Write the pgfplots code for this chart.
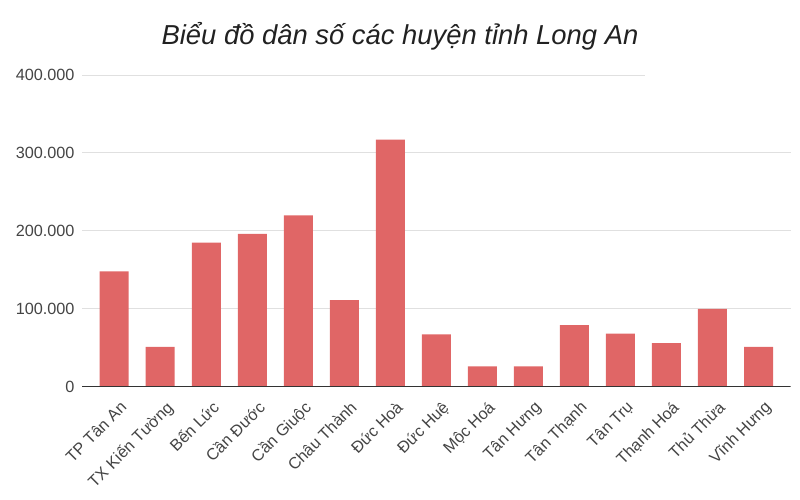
\documentclass[border=0pt]{standalone}
\usepackage{fontspec}
\setmainfont{Liberation Sans}
\usepackage{pgfplots}
\pgfplotsset{compat=1.18}
\definecolor{barred}{HTML}{E06666}
\definecolor{tickgray}{HTML}{444444}
\definecolor{gridgray}{HTML}{E0E0E0}
\definecolor{zerogray}{HTML}{333333}
\begin{document}
\begin{tikzpicture}[x=1bp,y=1bp]
\useasboundingbox (0,0) rectangle (800,500);
\node[font=\fontsize{27.5}{30}\selectfont\itshape, text=black!87] at (400,464) {Biểu đồ dân số các huyện tỉnh Long An};
\begin{axis}[
  at={(82bp,113.3bp)}, anchor=south west,
  scale only axis, width=708.7bp, height=311.7bp,
  xmin=-0.7, xmax=14.7, ymin=0, ymax=400000,
  axis line style={draw=none},
  major tick length=0,
  xtick={0,...,14},
  xticklabels={TP Tân An, TX Kiến Tường, Bến Lức, Cần Đước, Cần Giuộc, Châu Thành, Đức Hoà, Đức Huệ, Mộc Hoá, Tân Hưng, Tân Thạnh, Tân Trụ, Thạnh Hoá, Thủ Thừa, Vĩnh Hưng},
  x tick label style={rotate=45, anchor=north east, font=\fontsize{16.3}{18}\selectfont, text=tickgray, yshift=-9.5bp, xshift=-2.5bp},
  scaled y ticks=false,
  ytick={100000,200000,300000},
  yticklabels={100.000,200.000,300.000},
  extra y ticks={0,400000},
  extra y tick labels={0,400.000},
  extra y tick style={grid=none},
  y tick label style={font=\fontsize{16.3}{18}\selectfont, text=tickgray, xshift=-4bp},
  ymajorgrids, grid style={gridgray, line width=0.9bp},
]
\draw[gridgray, line width=0.9bp] (axis cs:-0.7,400000) -- (axis cs:11.54,400000);
\addplot[ybar, bar width=0.63, fill=barred, draw=none] coordinates {
  (0,148000) (1,51000) (2,185000) (3,196000) (4,220000)
  (5,111000) (6,317000) (7,67000) (8,26000) (9,26000)
  (10,79000) (11,68000) (12,56000) (13,100000) (14,51000)
};
\draw[zerogray, line width=1.1bp] (axis cs:-0.7,0) -- (axis cs:14.7,0);
\end{axis}
\end{tikzpicture}
\end{document}
